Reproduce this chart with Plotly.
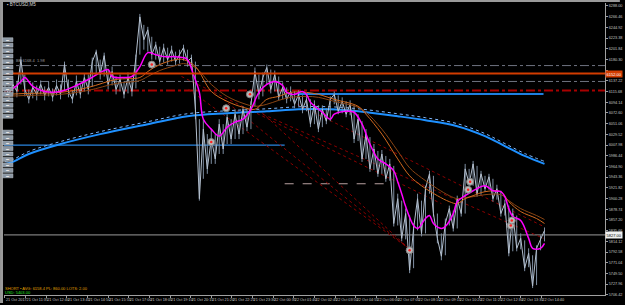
import plotly.graph_objects as go

# ---------------- data ----------------
price_idx = list(range(137))
price = [6124, 6110, 6130, 6116, 6180, 6120, 6100, 6124, 6110, 6130,
         6108, 6124, 6104, 6128, 6110, 6170, 6116, 6100, 6136, 6110,
         6144, 6120, 6176, 6196, 6150, 6188, 6130, 6156, 6120, 6140,
         6110, 6144, 6116, 6184, 6266, 6220, 6240, 6190, 6210, 6176,
         6204, 6180, 6200, 6176, 6190, 6204, 6176, 6184, 6080, 5900,
         6040, 5960, 6020, 5980, 6050, 6000, 6064, 6020, 6070, 6030,
         6080, 6044, 6090, 6156, 6110, 6144, 6164, 6120, 6150, 6104,
         6124, 6100, 6116, 6090, 6110, 6080, 6100, 6050, 6090, 6040,
         6080, 6056, 6100, 6110, 6076, 6096, 6070, 6090, 6020, 6060,
         5980, 6030, 5960, 6000, 5950, 5990, 5940, 5970, 5850, 5900,
         5820, 5870, 5756, 5840, 5900, 5830, 5920, 5950, 5870, 5820,
         5784, 5850, 5880, 5840, 5900, 5870, 5960, 5930, 5970, 5910,
         5950, 5920, 5944, 5900, 5920, 5870, 5890, 5790, 5870, 5800,
         5820, 5760, 5790, 5724, 5800, 5820, 5836]
price_high = [6132, 6126, 6140, 6136, 6186, 6150, 6120, 6134, 6128, 6138,
              6126, 6136, 6122, 6140, 6130, 6176, 6140, 6118, 6148, 6130,
              6152, 6150, 6184, 6200, 6180, 6194, 6160, 6166, 6146, 6150,
              6136, 6154, 6140, 6190, 6272, 6250, 6246, 6226, 6216, 6206,
              6212, 6204, 6208, 6196, 6200, 6210, 6200, 6190, 6176, 6060,
              6060, 6030, 6040, 6030, 6060, 6050, 6070, 6060, 6080, 6068,
              6086, 6080, 6096, 6164, 6150, 6154, 6170, 6160, 6158, 6146,
              6134, 6124, 6126, 6116, 6118, 6108, 6110, 6100, 6098, 6088,
              6088, 6082, 6106, 6116, 6108, 6104, 6096, 6098, 6088, 6070,
              6056, 6040, 6024, 6010, 5996, 5998, 5986, 5980, 5966, 5910,
              5896, 5880, 5866, 5850, 5910, 5896, 5926, 5956, 5946, 5870,
              5830, 5860, 5886, 5876, 5906, 5896, 5970, 5960, 5976, 5966,
              5956, 5946, 5950, 5940, 5928, 5916, 5898, 5886, 5880, 5866,
              5830, 5816, 5800, 5786, 5806, 5826, 5842]
price_low = [6108, 6100, 6112, 6104, 6130, 6106, 6092, 6102, 6098, 6110,
             6098, 6106, 6096, 6108, 6100, 6118, 6104, 6092, 6108, 6102,
             6116, 6110, 6126, 6150, 6140, 6146, 6120, 6128, 6110, 6116,
             6102, 6112, 6106, 6122, 6190, 6200, 6196, 6180, 6180, 6168,
             6174, 6170, 6176, 6168, 6172, 6178, 6166, 6160, 6060, 5896,
             5940, 5950, 5970, 5970, 5990, 5990, 6010, 6010, 6020, 6020,
             6030, 6036, 6040, 6086, 6100, 6106, 6130, 6112, 6116, 6098,
             6100, 6092, 6096, 6082, 6086, 6072, 6076, 6044, 6050, 6034,
             6044, 6050, 6056, 6090, 6070, 6072, 6064, 6068, 6012, 6016,
             5974, 5980, 5954, 5958, 5944, 5950, 5934, 5936, 5844, 5846,
             5814, 5818, 5750, 5760, 5836, 5824, 5830, 5910, 5864, 5810,
             5776, 5786, 5846, 5834, 5840, 5864, 5870, 5920, 5926, 5904,
             5908, 5914, 5918, 5894, 5898, 5864, 5866, 5784, 5794, 5794,
             5798, 5754, 5762, 5720, 5726, 5796, 5814]

ma_fast_idx = [0, 2, 4, 5, 7, 10, 14, 18, 21, 24, 26, 27, 30, 32, 34, 36, 38, 40,
               43, 45, 46, 47.5, 49, 50, 52, 54, 56, 58, 60, 62, 64, 66, 68, 70,
               71, 73, 75, 76, 77, 80, 82, 83, 86, 88, 90, 92, 94, 96, 98, 99,
               100, 101, 103, 104, 106, 107, 108, 110, 111, 113, 114, 116, 118,
               121, 123, 125, 126, 127, 128, 130, 132, 133, 135, 136]
ma_fast = [6120, 6122, 6136, 6144, 6126, 6116, 6116, 6128, 6140, 6154, 6160, 6146,
           6144, 6146, 6166, 6194, 6190, 6186, 6186, 6184, 6180, 6150, 6114, 6060,
           6040, 6026, 6044, 6054, 6060, 6080, 6114, 6130, 6136, 6128, 6114, 6110,
           6116, 6110, 6094, 6074, 6060, 6070, 6076, 6074, 6050, 6010, 5980, 5970,
           5956, 5934, 5910, 5884, 5846, 5840, 5860, 5866, 5850, 5840, 5844, 5870,
           5894, 5906, 5916, 5926, 5916, 5914, 5904, 5880, 5864, 5856, 5820, 5800,
           5800, 5810]

ma_slow_idx = [0, 6, 14, 21, 28, 34, 36, 39, 43, 45, 48, 52, 56, 60, 63, 66, 69, 72,
               76, 79, 83, 89, 91, 95, 99, 102, 105, 109, 112, 114, 116, 118, 121,
               125, 127, 130, 134, 136]
ma_slow_a = [6110, 6112, 6114, 6124, 6140, 6144, 6156, 6170, 6180, 6180, 6166, 6116,
             6096, 6084, 6080, 6100, 6106, 6114, 6114, 6110, 6100, 6086, 6070, 6030,
             5980, 5946, 5926, 5906, 5894, 5890, 5900, 5906, 5914, 5914, 5894, 5874,
             5860, 5850]
ma_slow_b = [6106, 6108, 6110, 6118, 6132, 6138, 6146, 6158, 6168, 6172, 6164, 6130,
             6106, 6092, 6086, 6090, 6098, 6104, 6106, 6104, 6096, 6084, 6074, 6040,
             5996, 5962, 5942, 5920, 5906, 5900, 5902, 5904, 5908, 5908, 5896, 5880,
             5866, 5858]

ma_long_idx = [0, 2, 6, 14, 24, 36, 46, 56, 66, 74, 82, 89, 99, 106, 114, 121, 126, 131, 136]
ma_long = [5970, 5974, 5990, 6010, 6030, 6050, 6066, 6072, 6076, 6080, 6080, 6076,
           6066, 6058, 6046, 6026, 6006, 5986, 5970]

# horizontal levels
level_stop = 6152          # orange-red solid
level_grey_hi = 6168       # grey dash-dot
level_grey_lo = 6136       # grey dash-dot
level_red = 6118           # dark red dash-dot
blue_seg_a = (73.75, 135.75, 6111)
blue_seg_b = (-0.25, 70.5, 6008)
dash_seg = (70.5, 97.5, 5930)
last_price = 5827

# fan of dotted trend lines
fan_x0 = [46.25, 55.0, 62.5, 65.0, 73.75, 44.5]
fan_y0 = [6120, 6100, 6090, 6070, 6090, 6146]
fan_x1 = [101.75, 101.75, 101.75, 135.75, 135.75, 110.0]
fan_y1 = [5800, 5800, 5800, 5820, 5844, 5890]

# trade markers
mark_idx = [37, 52, 55.75, 61.75, 102, 116.75, 117.25, 127.5, 127.75]
mark_px = [6170, 6014, 6082, 6110, 5796, 5918, 5934, 5846, 5856]

time_labels = ["21 Oct 2017", "21 Oct 11:35", "21 Oct 12:40", "21 Oct 13:45",
               "21 Oct 14:50", "21 Oct 15:55", "21 Oct 17:00", "21 Oct 18:05",
               "21 Oct 19:10", "21 Oct 20:15", "21 Oct 21:20", "21 Oct 22:25",
               "21 Oct 23:30", "22 Oct 00:35", "22 Oct 01:40", "22 Oct 02:45",
               "22 Oct 03:50", "22 Oct 04:55", "22 Oct 06:00", "22 Oct 07:05",
               "22 Oct 08:10", "22 Oct 09:15", "22 Oct 10:20", "22 Oct 11:25",
               "22 Oct 12:30", "22 Oct 13:35", "22 Oct 14:40"]
time_step = 5.2

# ---------------- figure ----------------
W, H = 625, 305
ML, MR, MT, MB = 4, 15, 3, 8
X_RANGE = [-0.25, 151.25]
Y_RANGE = [5706, 6294]

fig = go.Figure()

def hline(x0, x1, y, color, width, dash):
    fig.add_trace(go.Scatter(x=[x0, x1], y=[y, y], mode="lines",
                             line=dict(color=color, width=width, dash=dash),
                             hoverinfo="skip", showlegend=False))

hline(X_RANGE[0], X_RANGE[1], level_grey_hi, "#6e7380", 1, "dashdot")
hline(X_RANGE[0], X_RANGE[1], level_grey_lo, "#6e7380", 1, "dashdot")
hline(X_RANGE[0], X_RANGE[1], level_red, "#a80000", 2, "dashdot")
hline(X_RANGE[0], X_RANGE[1], last_price, "#9a9a9a", 1, "solid")
hline(blue_seg_b[0], blue_seg_b[1], blue_seg_b[2], "#2a86e0", 1.3, "solid")
hline(dash_seg[0], dash_seg[1], dash_seg[2], "#b8a0a0", 1, "dash")
hline(blue_seg_a[0], blue_seg_a[1], blue_seg_a[2], "#1e7fe0", 2, "solid")

for x0, y0, x1, y1 in zip(fan_x0, fan_y0, fan_x1, fan_y1):
    fig.add_trace(go.Scatter(x=[x0, x1], y=[y0, y1], mode="lines",
                             line=dict(color="#8b0000", width=1, dash="dot"),
                             hoverinfo="skip", showlegend=False))

# long MA with light dotted companion
fig.add_trace(go.Scatter(x=ma_long_idx, y=[v + 5 for v in ma_long], mode="lines",
                         line=dict(color="#7fb8ff", width=1, dash="dot", shape="spline"),
                         showlegend=False, hoverinfo="skip"))
fig.add_trace(go.Scatter(x=ma_long_idx, y=ma_long, mode="lines",
                         line=dict(color="#1e90ff", width=2, shape="spline"),
                         showlegend=False))

# price bars (high-low) + close path
bx, by = [], []
for i, hi, lo in zip(price_idx, price_high, price_low):
    bx += [i, i, None]
    by += [lo, hi, None]
fig.add_trace(go.Scatter(x=bx, y=by, mode="lines", line=dict(color="#7f8fa3", width=1),
                         hoverinfo="skip", showlegend=False))
fig.add_trace(go.Scatter(x=price_idx, y=price, mode="lines",
                         line=dict(color="#b4c0cf", width=1),
                         showlegend=False))

fig.add_trace(go.Scatter(x=ma_slow_idx, y=ma_slow_b, mode="lines",
                         line=dict(color="#8b4513", width=1, shape="spline"),
                         showlegend=False))
fig.add_trace(go.Scatter(x=ma_slow_idx, y=ma_slow_a, mode="lines",
                         line=dict(color="#d2691e", width=1, shape="spline"),
                         showlegend=False))
fig.add_trace(go.Scatter(x=ma_fast_idx, y=ma_fast, mode="lines",
                         line=dict(color="#ff00ff", width=1.5, shape="spline"),
                         showlegend=False))

hline(X_RANGE[0], X_RANGE[1], level_stop, "#d23c00", 2, "solid")

fig.add_trace(go.Scatter(x=mark_idx, y=mark_px, mode="markers",
                         marker=dict(size=7, color="#b8b8b8", line=dict(color="#808080", width=1)),
                         showlegend=False))
fig.add_trace(go.Scatter(x=mark_idx, y=mark_px, mode="markers",
                         marker=dict(size=2.5, color="#ff2020"), showlegend=False))

y_tick0, y_dtick = 6288.0, 21.54
yticks = [y_tick0 - k * y_dtick for k in range(28)]
yticktext = [("" if abs(v - level_stop) < 9 else f"{v:.2f}") for v in yticks]

axis_font = dict(family="Arial", size=3.8, color="#c4c4c4")
fig.update_layout(
    width=W, height=H,
    margin=dict(l=ML, r=MR, t=MT, b=MB, pad=0),
    paper_bgcolor="black", plot_bgcolor="black",
    xaxis=dict(range=X_RANGE, showgrid=False, zeroline=False,
               tickvals=[k * time_step for k in range(len(time_labels))],
               ticktext=time_labels, tickfont=axis_font, tickangle=0,
               ticklabelposition="outside right",
               ticks="outside", ticklen=2, tickcolor="#a0a0a0",
               showline=True, linecolor="#a0a0a0", linewidth=1, mirror=False),
    yaxis=dict(range=Y_RANGE, side="right", showgrid=False, zeroline=False,
               tickvals=yticks, ticktext=yticktext,
               tickfont=axis_font, ticks="outside", ticklen=2, tickcolor="#a0a0a0",
               showline=True, linecolor="#a0a0a0", linewidth=1),
    font=dict(family="Arial"),
)

pw, ph = W - ML - MR, H - MT - MB
def px_x(x):
    return (x - ML) / pw
def px_y(y):
    return 1 - (y - MT) / ph

shapes = []
# window frame (left / top)
shapes.append(dict(type="rect", xref="paper", yref="paper", x0=px_x(0), x1=px_x(3),
                   y0=px_y(H), y1=px_y(0), fillcolor="#9a9a9a", line=dict(width=0), layer="above"))
shapes.append(dict(type="rect", xref="paper", yref="paper", x0=px_x(0), x1=px_x(W),
                   y0=px_y(2), y1=px_y(0), fillcolor="#9a9a9a", line=dict(width=0), layer="above"))

# EA panel buttons on the left
btn_y = [40, 45.5, 51, 56.5, 62, 67.5, 73, 78.5, 84, 89.5, 95, 100.5, 106, 111.5, 117,
         133, 138.5, 144, 149.5, 155, 160.5, 166, 171.5, 177]
for byy in btn_y:
    shapes.append(dict(type="rect", xref="paper", yref="paper",
                       x0=px_x(2.5), x1=px_x(13), y0=px_y(byy + 2), y1=px_y(byy - 2),
                       fillcolor="#8c97a3", line=dict(color="#c0c8d0", width=0.5), layer="above"))
fig.update_layout(shapes=shapes)

ann = []
ann.append(dict(xref="paper", yref="paper", x=px_x(5), y=px_y(4.5), xanchor="left", yanchor="middle",
                text="▪ BTCUSD,M5", showarrow=False, font=dict(size=4.5, color="#d8d8d8")))
ann.append(dict(xref="paper", yref="y", x=px_x(14), y=level_grey_hi + 2, xanchor="left", yanchor="bottom",
                text="BE 6168.4  1.98", showarrow=False, font=dict(size=4, color="#9a9a9a")))
ann.append(dict(xref="paper", yref="paper", x=px_x(3), y=px_y(290), xanchor="left", yanchor="middle",
                text="SHORT • AVG: 6158.4 PL: 860.00 LOTS: 2.00", showarrow=False,
                font=dict(size=4, color="#e0a000")))
ann.append(dict(xref="paper", yref="paper", x=px_x(3), y=px_y(294.5), xanchor="left", yanchor="middle",
                text="USD: 5403.00", showarrow=False, font=dict(size=4, color="#20e020")))
# current price boxes on the price scale
ann.append(dict(xref="paper", yref="y", x=1.0, y=level_stop, xanchor="left", yanchor="middle",
                text=f"{level_stop:.2f}", showarrow=False, bgcolor="#d23c00",
                font=dict(size=4, color="white"), borderpad=0.5))
ann.append(dict(xref="paper", yref="y", x=1.0, y=last_price, xanchor="left", yanchor="middle",
                text=f"{last_price:.2f}", showarrow=False, bgcolor="#f0f0f0",
                font=dict(size=4, color="black"), borderpad=0.5))
for byy in btn_y:
    ann.append(dict(xref="paper", yref="paper", x=px_x(7.75), y=px_y(byy), xanchor="center",
                    yanchor="middle", text="▬", showarrow=False,
                    font=dict(size=3, color="#e8e8e8")))
fig.update_layout(annotations=ann)

fig.write_html("out.html")
